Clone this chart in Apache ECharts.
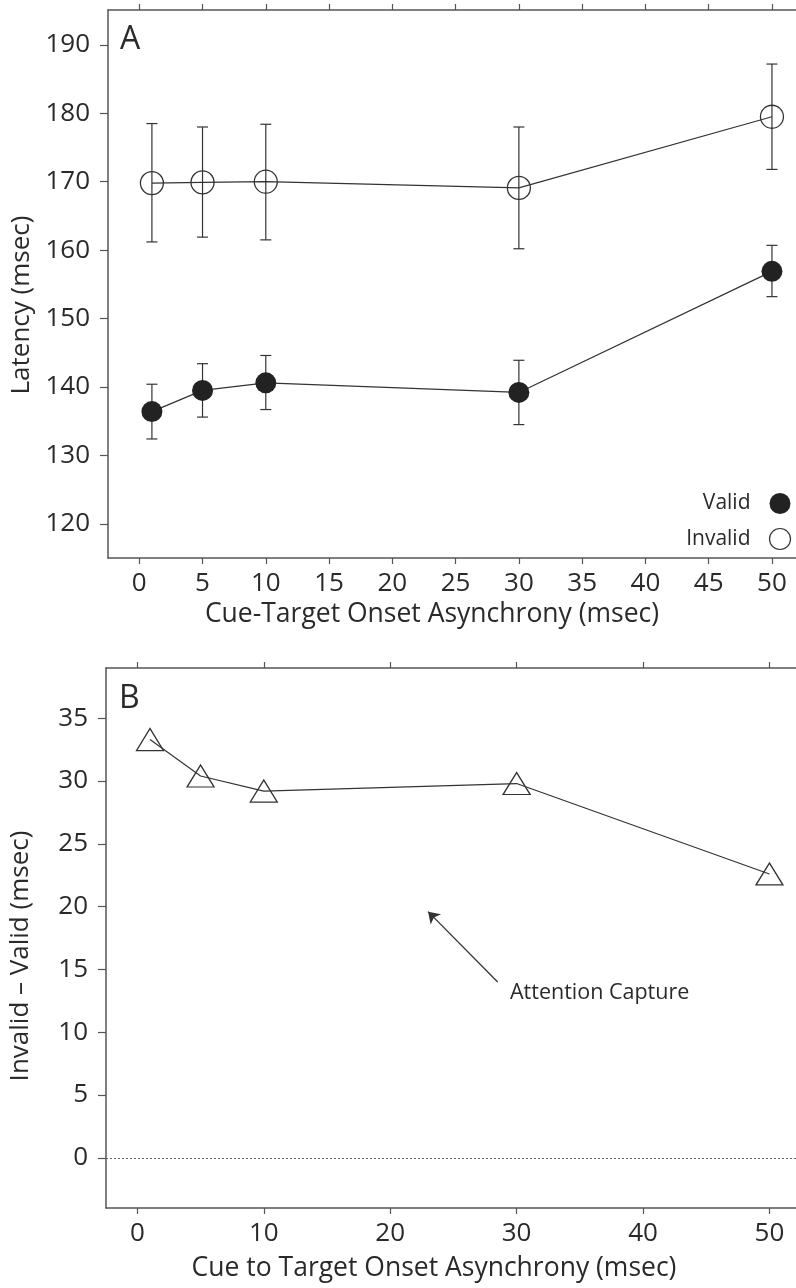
<!DOCTYPE html>
<html>
<head>
<meta charset="utf-8">
<script src="https://cdn.jsdelivr.net/npm/echarts@6/dist/echarts.min.js"></script>
<style>
    html, body { margin: 0; padding: 0; background: #fff; }
    #chart { width: 796px; height: 1288px; }
</style>
</head>
<body>
<div id="chart"></div>
<script>
// cue-target onset asynchrony (msec)
const soaValues = [1, 5, 10, 30, 50];

// panel A: latency (msec)
const validMean = [136.4, 139.5, 140.6, 139.2, 156.9];
const validLow = [132.4, 135.6, 136.7, 134.5, 153.2];
const validHigh = [140.4, 143.4, 144.6, 143.9, 160.7];
const invalidMean = [169.8, 169.9, 170.0, 169.1, 179.5];
const invalidLow = [161.2, 161.9, 161.5, 160.2, 171.8];
const invalidHigh = [178.5, 178.0, 178.4, 178.0, 187.2];

// panel B: invalid - valid (msec)
const captureValues = [33.3, 30.4, 29.2, 29.8, 22.6];

// tick labels
const xTicksA = [0, 5, 10, 15, 20, 25, 30, 35, 40, 45, 50];
const yTicksA = [120, 130, 140, 150, 160, 170, 180, 190];
const xTicksB = [0, 10, 20, 30, 40, 50];
const yTicksB = [0, 5, 10, 15, 20, 25, 30, 35];

const FONT = 'Open Sans';
const INK = '#2a2a2a';
const AXIS = '#555';

function zip(a, b) {
    return a.map((v, i) => [v, b[i]]);
}

function errorData(lo, hi) {
    return soaValues.map((x, i) => [x, lo[i], hi[i]]);
}

function renderErrorBar(params, api) {
    let top = api.coord([api.value(0), api.value(2)]);
    let bottom = api.coord([api.value(0), api.value(1)]);
    let half = 5.5;
    let style = {stroke: '#333', lineWidth: 1.2};
    return {
        type: 'group',
        children: [
            {type: 'line', shape: {x1: top[0], y1: top[1], x2: bottom[0], y2: bottom[1]}, style: style},
            {type: 'line', shape: {x1: top[0] - half, y1: top[1], x2: top[0] + half, y2: top[1]}, style: style},
            {type: 'line', shape: {x1: bottom[0] - half, y1: bottom[1], x2: bottom[0] + half, y2: bottom[1]}, style: style}
        ]
    };
}

function bottomAxis(gridIndex, min, max, ticks, name, shift, gap) {
    return {
        type: 'value',
        gridIndex: gridIndex,
        position: 'bottom',
        min: min,
        max: max,
        splitLine: {show: false},
        axisLine: {onZero: false, lineStyle: {color: AXIS, width: 1.5}},
        axisTick: {length: 6, lineStyle: {color: AXIS, width: 1.2}, customValues: ticks},
        axisLabel: {
            customValues: ticks,
            margin: 13,
            fontFamily: FONT,
            fontSize: 26,
            color: INK
        },
        name: name,
        nameLocation: 'middle',
        nameGap: gap,
        nameTextStyle: {
            fontFamily: FONT,
            fontSize: 26.5,
            color: INK,
            padding: [0, shift, 0, 0]
        }
    };
}

function topAxis(gridIndex, min, max, ticks) {
    return {
        type: 'value',
        gridIndex: gridIndex,
        position: 'top',
        min: min,
        max: max,
        splitLine: {show: false},
        axisLine: {onZero: false, lineStyle: {color: AXIS, width: 1.5}},
        axisTick: {length: 6, lineStyle: {color: AXIS, width: 1.2}, customValues: ticks},
        axisLabel: {show: false}
    };
}

function leftAxis(gridIndex, min, max, ticks, name, shift) {
    return {
        type: 'value',
        gridIndex: gridIndex,
        position: 'left',
        min: min,
        max: max,
        splitLine: {show: false},
        axisLine: {show: true, onZero: false, lineStyle: {color: AXIS, width: 1.5}},
        axisTick: {show: true, length: 8, lineStyle: {color: AXIS, width: 1.2}, customValues: ticks},
        axisLabel: {
            customValues: ticks,
            margin: 18,
            fontFamily: FONT,
            fontSize: 26,
            color: INK
        },
        name: name,
        nameLocation: 'middle',
        nameGap: 72,
        nameTextStyle: {
            fontFamily: FONT,
            fontSize: 26,
            color: INK,
            padding: [0, shift, 0, 0]
        }
    };
}

let myChart = echarts.init(document.getElementById('chart'));
let option = {
    backgroundColor: '#fff',
    animation: false,
    grid: [
        {left: 108, top: 10, width: 688, height: 548},
        {left: 106, top: 668, width: 690, height: 540}
    ],
    xAxis: [
        bottomAxis(0, -2.47, 51.9, xTicksA, 'Cue-Target Onset Asynchrony (msec)', 40, 43),
        topAxis(0, -2.47, 51.9, xTicksA),
        bottomAxis(1, -2.48, 52.1, xTicksB, 'Cue to Target Onset Asynchrony (msec)', 34, 47),
        topAxis(1, -2.48, 52.1, xTicksB)
    ],
    yAxis: [
        leftAxis(0, 115, 195.1, yTicksA, 'Latency (msec)', 42),
        leftAxis(1, -4, 39, yTicksB, 'Invalid \u2013 Valid (msec)', 36)
    ],
    legend: {
        orient: 'vertical',
        right: 3,
        top: 493,
        padding: 0,
        align: 'right',
        itemWidth: 21,
        itemHeight: 21,
        itemGap: 12,
        textStyle: {
            fontFamily: FONT,
            fontSize: 21,
            color: INK,
            padding: [4, 14, 0, 0]
        },
        data: [
            {name: 'Valid', icon: 'circle', itemStyle: {color: '#222', borderWidth: 0}},
            {name: 'Invalid', icon: 'circle', itemStyle: {color: 'none', borderColor: '#333', borderWidth: 1.2}}
        ]
    },
    graphic: [
        {type: 'text', left: 120, top: 24, style: {text: 'A', font: '32px "Open Sans"', fill: INK}},
        {type: 'text', left: 119, top: 683, style: {text: 'B', font: '32px "Open Sans"', fill: INK}},
        {type: 'text', left: 510, top: 982, style: {text: 'Attention Capture', font: '21.5px "Open Sans"', fill: INK}}
    ],
    series: [
        {
            name: 'Invalid error',
            type: 'custom',
            xAxisIndex: 0,
            yAxisIndex: 0,
            renderItem: renderErrorBar,
            encode: {x: 0, y: [1, 2]},
            data: errorData(invalidLow, invalidHigh),
            z: 1
        },
        {
            name: 'Valid error',
            type: 'custom',
            xAxisIndex: 0,
            yAxisIndex: 0,
            renderItem: renderErrorBar,
            encode: {x: 0, y: [1, 2]},
            data: errorData(validLow, validHigh),
            z: 1
        },
        {
            name: 'Invalid',
            type: 'line',
            xAxisIndex: 0,
            yAxisIndex: 0,
            data: zip(soaValues, invalidMean),
            symbol: 'circle',
            symbolSize: 23,
            showSymbol: true,
            lineStyle: {color: '#333', width: 1.2},
            itemStyle: {color: 'none', borderColor: '#333', borderWidth: 1.3},
            z: 3
        },
        {
            name: 'Valid',
            type: 'line',
            xAxisIndex: 0,
            yAxisIndex: 0,
            data: zip(soaValues, validMean),
            symbol: 'circle',
            symbolSize: 21,
            lineStyle: {color: '#333', width: 1.2},
            itemStyle: {color: '#222', borderWidth: 0},
            z: 3
        },
        {
            name: 'Capture',
            type: 'line',
            xAxisIndex: 2,
            yAxisIndex: 1,
            data: zip(soaValues, captureValues),
            symbol: 'triangle',
            symbolSize: [27, 22],
            lineStyle: {color: '#333', width: 1.2},
            itemStyle: {color: 'none', borderColor: '#333', borderWidth: 1.3},
            markLine: {
                silent: true,
                symbol: 'none',
                label: {show: false},
                lineStyle: {type: [2, 2], color: '#666', width: 1},
                data: [{yAxis: 0}]
            },
            z: 3
        },
        {
            name: 'Arrow',
            type: 'lines',
            coordinateSystem: 'cartesian2d',
            xAxisIndex: 2,
            yAxisIndex: 1,
            symbol: ['none', 'arrow'],
            symbolSize: 11,
            lineStyle: {color: '#333', width: 1.3, opacity: 1},
            data: [{coords: [[28.5, 14.0], [23.0, 19.6]]}]
        }
    ]
};
myChart.setOption(option);
</script>
</body>
</html>
